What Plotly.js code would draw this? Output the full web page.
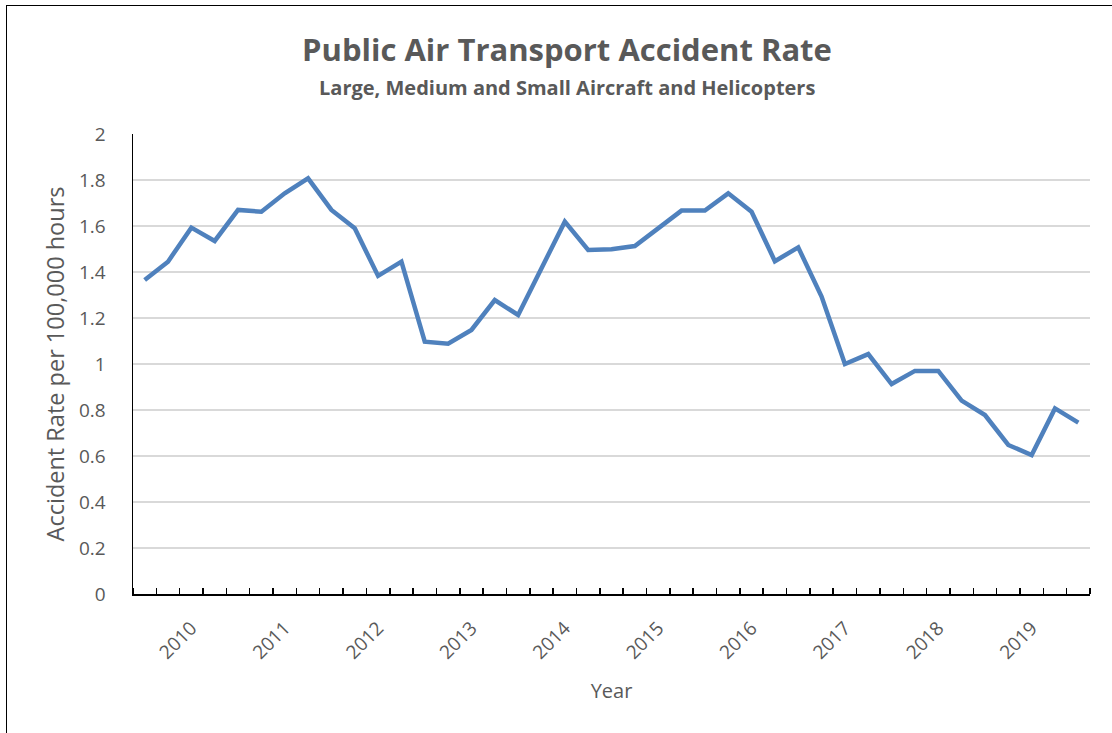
<!DOCTYPE html>
<html>
<head>
<meta charset="utf-8">
<script src="https://cdn.plot.ly/plotly-3.0.1.min.js"></script>
<style>
  html, body { margin: 0; padding: 0; background: #fff; overflow: hidden; }
  #frame { position: absolute; left: 6px; top: 5px; width: 1200px; height: 800px; border: 1.5px solid #000; box-sizing: border-box; pointer-events: none; z-index: 5; }
  #chart { position: absolute; left: 0; top: 0; width: 1112px; height: 733px; }
</style>
</head>
<body>
<div id="chart"></div>
<div id="frame"></div>
<script>
// Quarterly accident rate values (per 100,000 hours)
const rates = [
  1.365, 1.445, 1.593, 1.535, 1.670, 1.662, 1.742, 1.807, 1.670, 1.590,
  1.383, 1.445, 1.097, 1.088, 1.148, 1.278, 1.213, 1.416, 1.619, 1.496,
  1.499, 1.513, 1.590, 1.667, 1.667, 1.742, 1.662, 1.447, 1.507, 1.293,
  1.000, 1.043, 0.913, 0.970, 0.970, 0.841, 0.778, 0.648, 0.604, 0.807,
  0.745
];
// Year tick labels
const years = ["2010","2011","2012","2013","2014","2015","2016","2017","2018","2019"];
// Category index at which each year label sits
const yearIndex = [2, 6, 10, 14, 18, 22, 26, 30, 34, 38];

const xs = rates.map((_, i) => i);
const boundaries = rates.map((_, i) => i - 0.5).concat([rates.length - 0.5]);

const FONT = "'Open Sans', 'Noto Sans', sans-serif";
const GREY = "#595959";

const trace = {
  x: xs, y: rates, type: "scatter", mode: "lines",
  line: { color: "#4f81bd", width: 4.5 },
  hoverinfo: "skip"
};

const layout = {
  width: 1112, height: 733,
  margin: { l: 133, r: 22, t: 134, b: 139 },
  paper_bgcolor: "#fff", plot_bgcolor: "#fff",
  font: { family: FONT, color: GREY, size: 18 },
  showlegend: false,
  title: {
    text: "<b>Public Air Transport Accident Rate</b>",
    font: { family: FONT, size: 31, color: GREY },
    x: 567 / 1112, xanchor: "center", xref: "container",
    y: 1 - 50 / 733, yanchor: "middle", yref: "container"
  },
  annotations: [{
    text: "<b>Large, Medium and Small Aircraft and Helicopters</b>",
    xref: "paper", yref: "paper",
    x: (567 - 133) / 957, y: (594 - 88) / 460,
    xanchor: "center", yanchor: "middle", showarrow: false,
    font: { family: FONT, size: 20, color: GREY }
  }],
  xaxis: {
    type: "linear", range: [-0.5, rates.length - 0.5],
    tickmode: "array", tickvals: yearIndex, ticktext: years,
    tickangle: -45, ticks: "", showgrid: false, zeroline: false,
    showline: true, linecolor: "#000", linewidth: 1.5,
    tickfont: { family: FONT, size: 19, color: GREY },
    ticklabelstandoff: 14,
    minor: { tickmode: "array", tickvals: boundaries, ticks: "inside", ticklen: 6, tickwidth: 1.5, tickcolor: "#000", showgrid: false },
    title: { text: "Year", font: { family: FONT, size: 20, color: GREY }, standoff: 20 },
    fixedrange: true
  },
  yaxis: {
    range: [0, 2], dtick: 0.2, tick0: 0,
    showgrid: true, gridcolor: "#d9d9d9", gridwidth: 1.5,
    zeroline: false, showline: true, linecolor: "#000", linewidth: 1.5,
    ticks: "", ticklabelstandoff: 22,
    tickfont: { family: FONT, size: 19, color: GREY },
    title: { text: "Accident Rate per 100,000 hours", font: { family: FONT, size: 23.5, color: GREY }, standoff: 8 },
    fixedrange: true
  }
};

Plotly.newPlot("chart", [trace], layout, { displayModeBar: false, staticPlot: true });
</script>
</body>
</html>
